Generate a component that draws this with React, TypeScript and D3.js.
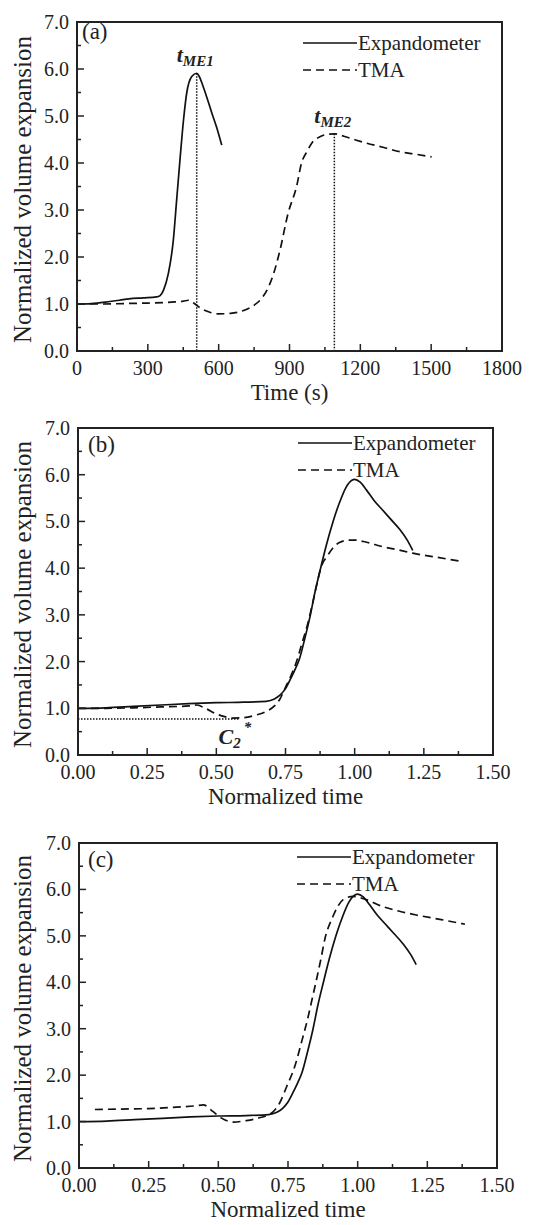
import React from "react";
import * as d3 from "d3";

// ---------- data ----------
// Panel (a): time (s) vs normalized volume expansion
const expandA: [number, number][] = [
  [0, 1.0], [60, 1.01], [120, 1.04], [180, 1.08], [220, 1.11], [280, 1.13], [337, 1.15],
  [352, 1.18], [366, 1.29], [387, 1.65], [408, 2.36], [422, 3.21], [436, 4.06], [451, 4.91],
  [465, 5.5], [486, 5.84], [507, 5.91], [518, 5.84], [532, 5.66], [549, 5.41], [570, 5.08],
  [592, 4.75], [613, 4.38],
];
const tmaA: [number, number][] = [
  [0, 1.0], [100, 1.0], [200, 1.01], [300, 1.02], [400, 1.04], [450, 1.06], [472, 1.08],
  [500, 1.0], [521, 0.92], [560, 0.83], [600, 0.79], [650, 0.8], [700, 0.85], [746, 0.96],
  [782, 1.12], [810, 1.35], [831, 1.62], [860, 2.15], [894, 2.93], [930, 3.5], [951, 4.0],
  [975, 4.25], [994, 4.42], [1029, 4.56], [1060, 4.61], [1090, 4.62], [1130, 4.57],
  [1180, 4.49], [1228, 4.42], [1300, 4.33], [1368, 4.24], [1430, 4.19], [1502, 4.13],
];
const markerTimes = [507, 1090];
const markerValues = [5.91, 4.62];
const markerNames = ["ME1", "ME2"];

// Panel (b) and (c): normalized time
const expandNorm: [number, number][] = [
  [0, 1.0], [0.1, 1.01], [0.2, 1.04], [0.3, 1.07], [0.4, 1.1], [0.5, 1.12], [0.6, 1.13],
  [0.68, 1.15], [0.71, 1.2], [0.73, 1.28], [0.75, 1.42], [0.77, 1.65], [0.786, 1.85],
  [0.8, 2.05], [0.82, 2.5], [0.84, 3.0], [0.857, 3.5], [0.877, 4.0], [0.898, 4.5],
  [0.922, 5.0], [0.945, 5.4], [0.968, 5.72], [0.99, 5.88], [1.0, 5.9], [1.02, 5.84],
  [1.043, 5.67], [1.07, 5.45], [1.1, 5.25], [1.13, 5.05], [1.164, 4.82], [1.19, 4.6],
  [1.21, 4.38],
];
const tmaB: [number, number][] = [
  [0, 1.0], [0.1, 1.0], [0.2, 1.01], [0.3, 1.03], [0.4, 1.05], [0.43, 1.07], [0.46, 1.0],
  [0.5, 0.88], [0.53, 0.82], [0.56, 0.79], [0.6, 0.8], [0.64, 0.85], [0.68, 0.93],
  [0.71, 1.05], [0.73, 1.2], [0.75, 1.45], [0.77, 1.7], [0.79, 2.0], [0.81, 2.4],
  [0.83, 2.8], [0.85, 3.3], [0.865, 3.7], [0.88, 4.05], [0.9, 4.25], [0.92, 4.42],
  [0.945, 4.55], [0.98, 4.6], [1.0, 4.6], [1.04, 4.56], [1.1, 4.46], [1.15, 4.4],
  [1.21, 4.32], [1.3, 4.23], [1.38, 4.15],
];
const c2Level = 0.77;
const c2End = 0.58;
const tmaC: [number, number][] = [
  [0.057, 1.26], [0.15, 1.27], [0.25, 1.28], [0.35, 1.31], [0.42, 1.34], [0.446, 1.36],
  [0.48, 1.22], [0.51, 1.08], [0.554, 0.99], [0.6, 1.02], [0.64, 1.07], [0.69, 1.18],
  [0.72, 1.4], [0.745, 1.75], [0.775, 2.2], [0.798, 2.7], [0.82, 3.2], [0.837, 3.65],
  [0.852, 4.05], [0.868, 4.5], [0.883, 4.95], [0.91, 5.4], [0.948, 5.78], [0.984, 5.85],
  [1.03, 5.78], [1.09, 5.63], [1.15, 5.53], [1.21, 5.45], [1.3, 5.35], [1.385, 5.25],
];

const xTicksA = [0, 300, 600, 900, 1200, 1500, 1800];
const xTicksNorm = [0, 0.25, 0.5, 0.75, 1.0, 1.25, 1.5];
const yTicks = [0, 1, 2, 3, 4, 5, 6, 7];
const seriesNames = ["Expandometer", "TMA"];

const FONT = "Liberation Serif, Times New Roman, DejaVu Serif, serif";

type PanelCfg = {
  tag: string;
  x0: number; x1: number; y0: number; y1: number;
  xDomain: [number, number];
  xTicks: number[];
  xFmt: (v: number) => string;
  xTitle: string;
  exp: [number, number][];
  tma: [number, number][];
  legX: number; legY: number;
  tagX: number; tagY: number;
  extra?: (x: d3.ScaleLinear<number, number>, y: d3.ScaleLinear<number, number>) => React.ReactNode;
};

const T = (props: any) => <text style={{ fontFamily: FONT }} fill="#222" {...props} />;

function Panel({ c }: { c: PanelCfg }) {
  const x = d3.scaleLinear().domain(c.xDomain).range([c.x0, c.x1]);
  const y = d3.scaleLinear().domain([0, 7]).range([c.y1, c.y0]);
  const line = d3
    .line<[number, number]>()
    .x((d) => x(d[0]))
    .y((d) => y(d[1]))
    .curve(d3.curveMonotoneX);
  const xStep = c.xTicks[1] - c.xTicks[0];
  const xMinor = c.xTicks.slice(0, -1).map((v) => v + xStep / 2);
  const yMinor = yTicks.slice(0, -1).map((v) => v + 0.5);
  const midX = (c.x0 + c.x1) / 2;
  const midY = (c.y0 + c.y1) / 2;
  return (
    <g>
      <path d={line(c.exp) || ""} fill="none" stroke="#111" strokeWidth={1.7} />
      <path d={line(c.tma) || ""} fill="none" stroke="#111" strokeWidth={1.7} strokeDasharray="8,5" />
      {c.extra && c.extra(x, y)}
      {c.xTicks.map((v) => (
        <g key={"xt" + v}>
          <line x1={x(v)} x2={x(v)} y1={c.y1} y2={c.y1 - 7} stroke="#222" strokeWidth={1.5} />
          <T x={x(v)} y={c.y1 + 24} textAnchor="middle" fontSize={20}>
            {c.xFmt(v)}
          </T>
        </g>
      ))}
      {xMinor.map((v) => (
        <line key={"xm" + v} x1={x(v)} x2={x(v)} y1={c.y1} y2={c.y1 - 4} stroke="#222" strokeWidth={1.5} />
      ))}
      {yTicks.map((v) => (
        <g key={"yt" + v}>
          <line x1={c.x0} x2={c.x0 + 7} y1={y(v)} y2={y(v)} stroke="#222" strokeWidth={1.5} />
          <T x={c.x0 - 8} y={y(v) + 7} textAnchor="end" fontSize={20}>
            {d3.format(".1f")(v)}
          </T>
        </g>
      ))}
      {yMinor.map((v) => (
        <line key={"ym" + v} x1={c.x0} x2={c.x0 + 4} y1={y(v)} y2={y(v)} stroke="#222" strokeWidth={1.5} />
      ))}
      <rect x={c.x0} y={c.y0} width={c.x1 - c.x0} height={c.y1 - c.y0} fill="none" stroke="#222" strokeWidth={2} />
      <T x={midX} y={c.y1 + 49} textAnchor="middle" fontSize={23}>
        {c.xTitle}
      </T>
      <T transform={`translate(${31},${midY + 3}) rotate(-90)`} textAnchor="middle" fontSize={25}>
        Normalized volume expansion
      </T>
      <T x={c.tagX} y={c.tagY} fontSize={23}>
        {c.tag}
      </T>
      {seriesNames.map((n, i) => (
        <g key={n}>
          <line
            x1={c.legX}
            x2={c.legX + 54}
            y1={c.legY + i * 27}
            y2={c.legY + i * 27}
            stroke="#111"
            strokeWidth={1.7}
            strokeDasharray={i === 1 ? "8,5" : undefined}
          />
          <T x={c.legX + 55} y={c.legY + i * 27 + 7} fontSize={21}>
            {n}
          </T>
        </g>
      ))}
    </g>
  );
}

const fmtA = (v: number) => String(v);
const fmtN = (v: number) => d3.format(".2f")(v);

const panels: PanelCfg[] = [
  {
    tag: "(a)", x0: 77, x1: 502, y0: 22, y1: 351, xDomain: [0, 1800], xTicks: xTicksA, xFmt: fmtA,
    xTitle: "Time (s)", exp: expandA, tma: tmaA, legX: 303, legY: 43, tagX: 82, tagY: 39,
    extra: (x, y) => (
      <g>
        {markerTimes.map((t, i) => (
          <g key={"m" + i}>
            <line x1={x(t)} x2={x(t)} y1={y(markerValues[i])} y2={y(0)} stroke="#111" strokeWidth={1.5} strokeDasharray="1.5,1.5" />
            <T x={x(t) - 20} y={y(markerValues[i]) - 11} fontWeight="bold" fontStyle="italic" fontSize={22}>
              t
              <tspan fontSize={15} dy={4}>{markerNames[i]}</tspan>
            </T>
          </g>
        ))}
      </g>
    ),
  },
  {
    tag: "(b)", x0: 78, x1: 493, y0: 428, y1: 755, xDomain: [0, 1.5], xTicks: xTicksNorm, xFmt: fmtN,
    xTitle: "Normalized time", exp: expandNorm, tma: tmaB, legX: 298, legY: 443, tagX: 88, tagY: 452,
    extra: (x, y) => (
      <g>
        <line x1={x(0)} x2={x(c2End)} y1={y(c2Level)} y2={y(c2Level)} stroke="#111" strokeWidth={1.5} strokeDasharray="1.5,1.5" />
        <T x={x(c2End) - 20} y={y(c2Level) + 25} fontWeight="bold" fontStyle="italic" fontSize={22}>
          C
          <tspan fontSize={15} dy={4}>2</tspan>
          <tspan fontSize={15} dy={-16} dx={3}>*</tspan>
        </T>
      </g>
    ),
  },
  {
    tag: "(c)", x0: 79, x1: 497, y0: 843, y1: 1168, xDomain: [0, 1.5], xTicks: xTicksNorm, xFmt: fmtN,
    xTitle: "Normalized time", exp: expandNorm, tma: tmaC, legX: 297, legY: 857, tagX: 88, tagY: 867,
  },
];

export default function App() {
  return (
    <svg
      width={550}
      height={1225}
      viewBox="0 0 550 1225"
      style={{ position: "absolute", left: 0, top: 0, background: "#fff", fontFamily: FONT }}
    >
      <rect width={550} height={1225} fill="#fff" />
      {panels.map((p) => (
        <Panel key={p.tag} c={p} />
      ))}
    </svg>
  );
}
